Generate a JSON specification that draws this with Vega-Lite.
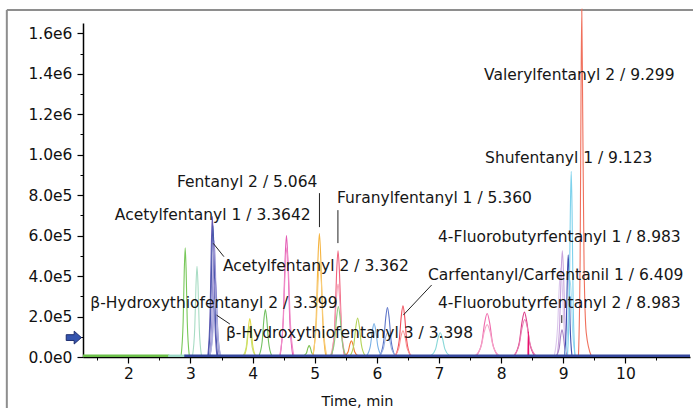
{
"$schema":"https://vega.github.io/schema/vega-lite/v6.json",
"width":607,"height":334,
"autosize":{"type":"none"},
"padding":{"left":83,"top":23,"right":3,"bottom":51},
"background":"white",
"config":{"view":{"stroke":null},"font":"DejaVu Sans"},
"datasets":{
"peaks":[
{"s":"g1","t":2.849,"v":6000},{"s":"g1","t":2.882,"v":175500},{"s":"g1","t":2.8996,"v":422800},{"s":"g1","t":2.915,"v":540000},{"s":"g1","t":2.9304,"v":422800},{"s":"g1","t":2.948,"v":175500},{"s":"g1","t":2.981,"v":6000},
{"s":"m1","t":3.033,"v":6000},{"s":"m1","t":3.069,"v":145600},{"s":"m1","t":3.0882,"v":350800},{"s":"m1","t":3.105,"v":448000},{"s":"m1","t":3.1218,"v":350800},{"s":"m1","t":3.141,"v":145600},{"s":"m1","t":3.177,"v":6000},
{"s":"pb1","t":3.28,"v":6000},{"s":"pb1","t":3.316,"v":225900},{"s":"pb1","t":3.3352,"v":544200},{"s":"pb1","t":3.352,"v":695000},{"s":"pb1","t":3.3688,"v":544200},{"s":"pb1","t":3.388,"v":225900},{"s":"pb1","t":3.424,"v":6000},
{"s":"pb2","t":3.287,"v":6000},{"s":"pb2","t":3.3245,"v":211300},{"s":"pb2","t":3.3445,"v":509000},{"s":"pb2","t":3.362,"v":650000},{"s":"pb2","t":3.3795,"v":509000},{"s":"pb2","t":3.3995,"v":211300},{"s":"pb2","t":3.437,"v":6000},
{"s":"lv1","t":3.304,"v":6000},{"s":"lv1","t":3.343,"v":186900},{"s":"lv1","t":3.3638,"v":450200},{"s":"lv1","t":3.382,"v":575000},{"s":"lv1","t":3.4002,"v":450200},{"s":"lv1","t":3.421,"v":186900},{"s":"lv1","t":3.46,"v":6000},
{"s":"lv2","t":3.314,"v":6000},{"s":"lv2","t":3.356,"v":126800},{"s":"lv2","t":3.3784,"v":305400},{"s":"lv2","t":3.398,"v":390000},{"s":"lv2","t":3.4176,"v":305400},{"s":"lv2","t":3.44,"v":126800},{"s":"lv2","t":3.482,"v":6000},
{"s":"lv3","t":3.31,"v":6000},{"s":"lv3","t":3.355,"v":94250},{"s":"lv3","t":3.379,"v":227100},{"s":"lv3","t":3.4,"v":290000},{"s":"lv3","t":3.421,"v":227100},{"s":"lv3","t":3.445,"v":94250},{"s":"lv3","t":3.49,"v":6000},
{"s":"y1","t":3.865,"v":6000},{"s":"y1","t":3.91,"v":61750},{"s":"y1","t":3.934,"v":148800},{"s":"y1","t":3.955,"v":190000},{"s":"y1","t":3.976,"v":148800},{"s":"y1","t":4.0,"v":61750},{"s":"y1","t":4.045,"v":6000},
{"s":"yg1","t":3.849,"v":6000},{"s":"yg1","t":3.897,"v":48750},{"s":"yg1","t":3.9226,"v":117500},{"s":"yg1","t":3.945,"v":150000},{"s":"yg1","t":3.9674,"v":117500},{"s":"yg1","t":3.993,"v":48750},{"s":"yg1","t":4.041,"v":6000},
{"s":"g2","t":4.103,"v":6000},{"s":"g2","t":4.154,"v":76400},{"s":"g2","t":4.1812,"v":184000},{"s":"g2","t":4.205,"v":235000},{"s":"g2","t":4.2288,"v":184000},{"s":"g2","t":4.256,"v":76400},{"s":"g2","t":4.307,"v":6000},
{"s":"pk1","t":4.443,"v":6000},{"s":"pk1","t":4.494,"v":195000},{"s":"pk1","t":4.5212,"v":469800},{"s":"pk1","t":4.545,"v":600000},{"s":"pk1","t":4.5688,"v":469800},{"s":"pk1","t":4.596,"v":195000},{"s":"pk1","t":4.647,"v":6000},
{"s":"pk2","t":4.436,"v":6000},{"s":"pk2","t":4.493,"v":175500},{"s":"pk2","t":4.5234,"v":422800},{"s":"pk2","t":4.55,"v":540000},{"s":"pk2","t":4.5766,"v":422800},{"s":"pk2","t":4.607,"v":175500},{"s":"pk2","t":4.664,"v":6000},
{"s":"g3","t":4.82,"v":6000},{"s":"g3","t":4.865,"v":18200},{"s":"g3","t":4.889,"v":43850},{"s":"g3","t":4.91,"v":56000},{"s":"g3","t":4.931,"v":43850},{"s":"g3","t":4.955,"v":18200},{"s":"g3","t":5.0,"v":6000},
{"s":"o1","t":4.973,"v":6000},{"s":"o1","t":5.024,"v":198300},{"s":"o1","t":5.0512,"v":477600},{"s":"o1","t":5.075,"v":610000},{"s":"o1","t":5.0988,"v":477600},{"s":"o1","t":5.126,"v":198300},{"s":"o1","t":5.177,"v":6000},
{"s":"o2","t":4.966,"v":6000},{"s":"o2","t":5.023,"v":152800},{"s":"o2","t":5.0534,"v":368000},{"s":"o2","t":5.08,"v":470000},{"s":"o2","t":5.1066,"v":368000},{"s":"o2","t":5.137,"v":152800},{"s":"o2","t":5.194,"v":6000},
{"s":"r1","t":5.273,"v":6000},{"s":"r1","t":5.324,"v":170600},{"s":"r1","t":5.3512,"v":411100},{"s":"r1","t":5.375,"v":525000},{"s":"r1","t":5.3988,"v":411100},{"s":"r1","t":5.426,"v":170600},{"s":"r1","t":5.477,"v":6000},
{"s":"r2","t":5.255,"v":6000},{"s":"r2","t":5.315,"v":117000},{"s":"r2","t":5.347,"v":281900},{"s":"r2","t":5.375,"v":360000},{"s":"r2","t":5.403,"v":281900},{"s":"r2","t":5.435,"v":117000},{"s":"r2","t":5.495,"v":6000},
{"s":"g4","t":5.26,"v":6000},{"s":"g4","t":5.32,"v":81250},{"s":"g4","t":5.352,"v":195800},{"s":"g4","t":5.38,"v":250000},{"s":"g4","t":5.408,"v":195800},{"s":"g4","t":5.44,"v":81250},{"s":"g4","t":5.5,"v":6000},
{"s":"o3","t":5.485,"v":6000},{"s":"o3","t":5.5375,"v":26000},{"s":"o3","t":5.5655,"v":62640},{"s":"o3","t":5.59,"v":80000},{"s":"o3","t":5.6145,"v":62640},{"s":"o3","t":5.6425,"v":26000},{"s":"o3","t":5.695,"v":6000},
{"s":"yg2","t":5.57,"v":6000},{"s":"yg2","t":5.63,"v":62700},{"s":"yg2","t":5.662,"v":151100},{"s":"yg2","t":5.69,"v":193000},{"s":"yg2","t":5.718,"v":151100},{"s":"yg2","t":5.75,"v":62700},{"s":"yg2","t":5.81,"v":6000},
{"s":"lb1","t":5.835,"v":6000},{"s":"lb1","t":5.895,"v":53600},{"s":"lb1","t":5.927,"v":129200},{"s":"lb1","t":5.955,"v":165000},{"s":"lb1","t":5.983,"v":129200},{"s":"lb1","t":6.015,"v":53600},{"s":"lb1","t":6.075,"v":6000},
{"s":"b2","t":6.05,"v":6000},{"s":"b2","t":6.11,"v":79600},{"s":"b2","t":6.142,"v":191800},{"s":"b2","t":6.17,"v":245000},{"s":"b2","t":6.198,"v":191800},{"s":"b2","t":6.23,"v":79600},{"s":"b2","t":6.29,"v":6000},
{"s":"b3","t":6.035,"v":6000},{"s":"b3","t":6.1025,"v":39000},{"s":"b3","t":6.1385,"v":93960},{"s":"b3","t":6.17,"v":120000},{"s":"b3","t":6.2015,"v":93960},{"s":"b3","t":6.2375,"v":39000},{"s":"b3","t":6.305,"v":6000},
{"s":"r3","t":6.3,"v":6000},{"s":"r3","t":6.36,"v":82200},{"s":"r3","t":6.392,"v":198100},{"s":"r3","t":6.42,"v":253000},{"s":"r3","t":6.448,"v":198100},{"s":"r3","t":6.48,"v":82200},{"s":"r3","t":6.54,"v":6000},
{"s":"r4","t":6.285,"v":6000},{"s":"r4","t":6.3525,"v":42250},{"s":"r4","t":6.3885,"v":101800},{"s":"r4","t":6.42,"v":130000},{"s":"r4","t":6.4515,"v":101800},{"s":"r4","t":6.4875,"v":42250},{"s":"r4","t":6.555,"v":6000},
{"s":"c1","t":6.87,"v":6000},{"s":"c1","t":6.945,"v":39000},{"s":"c1","t":6.985,"v":93960},{"s":"c1","t":7.02,"v":120000},{"s":"c1","t":7.055,"v":93960},{"s":"c1","t":7.095,"v":39000},{"s":"c1","t":7.17,"v":6000},
{"s":"pk3","t":7.601,"v":6000},{"s":"pk3","t":7.688,"v":69900},{"s":"pk3","t":7.7344,"v":168300},{"s":"pk3","t":7.775,"v":215000},{"s":"pk3","t":7.8156,"v":168300},{"s":"pk3","t":7.862,"v":69900},{"s":"pk3","t":7.949,"v":6000},
{"s":"pk4","t":7.58,"v":6000},{"s":"pk4","t":7.6775,"v":52000},{"s":"pk4","t":7.7295,"v":125300},{"s":"pk4","t":7.775,"v":160000},{"s":"pk4","t":7.8205,"v":125300},{"s":"pk4","t":7.8725,"v":52000},{"s":"pk4","t":7.97,"v":6000},
{"s":"mg1","t":8.21,"v":6000},{"s":"mg1","t":8.2925,"v":72150},{"s":"mg1","t":8.3365,"v":173800},{"s":"mg1","t":8.375,"v":222000},{"s":"mg1","t":8.4135,"v":173800},{"s":"mg1","t":8.4575,"v":72150},{"s":"mg1","t":8.54,"v":6000},
{"s":"mg2","t":8.2,"v":6000},{"s":"mg2","t":8.29,"v":60100},{"s":"mg2","t":8.338,"v":144900},{"s":"mg2","t":8.38,"v":185000},{"s":"mg2","t":8.422,"v":144900},{"s":"mg2","t":8.47,"v":60100},{"s":"mg2","t":8.56,"v":6000},
{"s":"hp1","t":8.432,"v":6000},{"s":"hp1","t":8.437,"v":125000},{"s":"hp1","t":8.439,"v":125000},{"s":"hp1","t":8.444,"v":6000},
{"s":"pu1","t":8.901,"v":6000},{"s":"pu1","t":8.943,"v":170600},{"s":"pu1","t":8.9654,"v":411100},{"s":"pu1","t":8.985,"v":525000},{"s":"pu1","t":9.0046,"v":411100},{"s":"pu1","t":9.027,"v":170600},{"s":"pu1","t":9.069,"v":6000},
{"s":"pu2","t":8.855,"v":6000},{"s":"pu2","t":8.9075,"v":143000},{"s":"pu2","t":8.9355,"v":344500},{"s":"pu2","t":8.96,"v":440000},{"s":"pu2","t":8.9845,"v":344500},{"s":"pu2","t":9.0125,"v":143000},{"s":"pu2","t":9.065,"v":6000},
{"s":"pu3","t":8.89,"v":6000},{"s":"pu3","t":8.935,"v":43900},{"s":"pu3","t":8.959,"v":105700},{"s":"pu3","t":8.98,"v":135000},{"s":"pu3","t":9.001,"v":105700},{"s":"pu3","t":9.025,"v":43900},{"s":"pu3","t":9.07,"v":6000},
{"s":"db1","t":9.02,"v":6000},{"s":"db1","t":9.05,"v":164100},{"s":"db1","t":9.066,"v":395400},{"s":"db1","t":9.08,"v":505000},{"s":"db1","t":9.094,"v":395400},{"s":"db1","t":9.11,"v":164100},{"s":"db1","t":9.14,"v":6000},
{"s":"cy2","t":9.026,"v":6000},{"s":"cy2","t":9.068,"v":123500},{"s":"cy2","t":9.0904,"v":297500},{"s":"cy2","t":9.11,"v":380000},{"s":"cy2","t":9.1296,"v":297500},{"s":"cy2","t":9.152,"v":123500},{"s":"cy2","t":9.194,"v":6000},
{"s":"cy1","t":9.068,"v":6000},{"s":"cy1","t":9.098,"v":298400},{"s":"cy1","t":9.114,"v":718800},{"s":"cy1","t":9.128,"v":918000},{"s":"cy1","t":9.142,"v":718800},{"s":"cy1","t":9.158,"v":298400},{"s":"cy1","t":9.188,"v":6000},
{"s":"rd1","t":9.245,"v":6000},{"s":"rd1","t":9.272,"v":500000},{"s":"rd1","t":9.286,"v":1300000},{"s":"rd1","t":9.298,"v":1720000},{"s":"rd1","t":9.312,"v":1250000},{"s":"rd1","t":9.335,"v":450000},{"s":"rd1","t":9.37,"v":120000},{"s":"rd1","t":9.45,"v":6000}
],
"base":[
{"s":"bg","t":1.27,"v":6000},{"s":"bg","t":2.66,"v":6000},
{"s":"bt","t":2.64,"v":6000},{"s":"bt","t":2.92,"v":6000},
{"s":"bb","t":2.9,"v":6000},{"s":"bb","t":11.04,"v":6000}
],
"labels":[
{"label":"Valerylfentanyl 2 / 9.299","t":7.725,"v":1394000},
{"label":"Shufentanyl 1 / 9.123","t":7.741,"v":983700},
{"label":"Fentanyl 2 / 5.064","t":2.781,"v":867500},
{"label":"Furanylfentanyl 1 / 5.360","t":5.357,"v":783500},
{"label":"Acetylfentanyl 1 / 3.3642","t":1.783,"v":701900},
{"label":"4-Fluorobutyrfentanyl 1 / 8.983","t":6.984,"v":593200},
{"label":"Acetylfentanyl 2 / 3.362","t":3.522,"v":449800},
{"label":"Carfentanyl/Carfentanil 1 / 6.409","t":6.823,"v":405300},
{"label":"4-Fluorobutyrfentanyl 2 / 8.983","t":6.984,"v":266900},
{"label":"β-Hydroxythiofentanyl 2 / 3.399","t":1.388,"v":266900},
{"label":"β-Hydroxythiofentanyl 3 / 3.398","t":3.57,"v":118600}
],
"leaders":[
{"t":5.076,"v":810000,"t2":5.076,"v2":642000},
{"t":5.373,"v":726000,"t2":5.373,"v2":563000},
{"t":3.366,"v":562000,"t2":3.538,"v2":496000},
{"t":3.42,"v":207000,"t2":3.634,"v2":163000},
{"t":6.882,"v":356000,"t2":6.425,"v2":207000},
{"t":8.976,"v":207000,"t2":8.976,"v2":168000}
],
"frame":[
{"t":0.044,"v":1715000,"t2":11.3,"v2":1715000},
{"t":0.044,"v":-300000,"t2":0.044,"v2":1715000}
],
"arrow":[{"t":1.122,"v":96000}],
"minor":[{"t":5,"v":500000}]
},
"encoding":{
"x":{"field":"t","type":"quantitative","scale":{"domain":[1.27,11.04],"nice":false,"zero":false},"axis":null},
"y":{"field":"v","type":"quantitative","scale":{"domain":[0,1651000],"nice":false,"zero":false},"axis":null}
},
"resolve":{"axis":{"x":"independent","y":"independent"}},
"layer":[
{"data":{"name":"frame"},"mark":{"type":"rule","color":"#8e8e8e","strokeWidth":2,"clip":false},
 "encoding":{"x2":{"field":"t2"},"y2":{"field":"v2"}}},
{"data":{"name":"minor"},"mark":{"type":"point","opacity":0},
 "encoding":{
  "x":{"field":"t","type":"quantitative","scale":{"domain":[1.27,11.04],"nice":false,"zero":false},
   "axis":{"orient":"bottom","values":[1.5,2.5,3.5,4.5,5.5,6.5,7.5,8.5,9.5,10.5],"tickSize":3,"tickColor":"#000","tickWidth":1,"labels":false,"domain":false,"title":null,"grid":false}},
  "y":{"field":"v","type":"quantitative","scale":{"domain":[0,1651000],"nice":false,"zero":false},
   "axis":{"orient":"left","values":[100000,300000,500000,700000,900000,1100000,1300000,1500000],"tickSize":3,"tickColor":"#000","tickWidth":1,"labels":false,"domain":false,"title":null,"grid":false}}
 }},
{"data":{"name":"peaks"},"mark":{"type":"line","interpolate":"monotone","strokeWidth":1.1,"clip":false},
 "encoding":{
  "x":{"field":"t","type":"quantitative","scale":{"domain":[1.27,11.04],"nice":false,"zero":false},
   "axis":{"orient":"bottom","values":[2,3,4,5,6,7,8,9,10],"tickSize":6,"tickColor":"#000","tickWidth":1.2,"domainColor":"#000","domainWidth":1.5,"labelFont":"DejaVu Sans","labelFontSize":15.5,"labelColor":"#111","labelPadding":3,"labelFlush":false,"labelOverlap":false,"grid":false,
    "title":"Time, min","titleFont":"DejaVu Sans","titleFontSize":14.5,"titleFontWeight":"normal","titleColor":"#111","titleX":274,"titleY":48,"titleBaseline":"alphabetic","titleAlign":"center"}},
  "y":{"field":"v","type":"quantitative","scale":{"domain":[0,1651000],"nice":false,"zero":false},
   "axis":{"orient":"left","values":[0,200000,400000,600000,800000,1000000,1200000,1400000,1600000],"labelExpr":"replace(format(datum.value, '.1e'), '+', '')","tickSize":6,"tickColor":"#000","tickWidth":1.2,"domainColor":"#000","domainWidth":1.5,"labelFont":"DejaVu Sans","labelFontSize":15.5,"labelColor":"#111","labelPadding":5,"labelFlush":false,"labelOverlap":false,"grid":false,"title":null}},
  "color":{"field":"s","type":"nominal","legend":null,
   "scale":{"domain":["g1","m1","pb1","pb2","lv1","lv2","lv3","y1","yg1","g2","pk1","pk2","g3","o1","o2","r1","r2","g4","o3","yg2","lb1","b2","b3","r3","r4","c1","pk3","pk4","mg1","mg2","hp1","pu1","pu2","pu3","db1","cy1","cy2","rd1","bg","bt","bb"],
    "range":["#78c85a","#a8dcc4","#6458b4","#4a58ac","#9c94d4","#8a86cc","#b0b4e0","#e0dc48","#c8e070","#72c060","#e45cb4","#f08cc8","#7cc050","#f5b440","#f8cc78","#f0607c","#f598b0","#8ccc80","#f07a30","#b4d458","#78b0e6","#5c74c8","#98b0e0","#f04c58","#f89494","#88d8d8","#f06aac","#f4a4c8","#dc3c88","#e87cb0","#e8106c","#c8a4dc","#dcc8ec","#a884c4","#3e4eb0","#7ed2ec","#a8dcf0","#f0705c","#6cc04a","#9ad6c4","#34479c"]}}
 }},
{"data":{"name":"base"},"mark":{"type":"line","strokeWidth":2.4,"clip":false},
 "encoding":{"color":{"field":"s","type":"nominal","legend":null}}},
{"data":{"name":"leaders"},"mark":{"type":"rule","color":"#222","strokeWidth":1},
 "encoding":{"x2":{"field":"t2"},"y2":{"field":"v2"}}},
{"data":{"name":"labels"},"mark":{"type":"text","align":"left","baseline":"middle","font":"DejaVu Sans","fontSize":15.5,"color":"#161616","clip":false},
 "encoding":{"text":{"field":"label","type":"nominal"}}},
{"data":{"name":"arrow"},"mark":{"type":"point","shape":"M-1,-0.38L0.05,-0.38L0.05,-0.85L1,0L0.05,0.85L0.05,0.38L-1,0.38Z","size":230,"filled":true,"fill":"#3454ae","stroke":"#1d2d6e","strokeWidth":1,"opacity":1,"clip":false},
 "encoding":{}}
]
}
